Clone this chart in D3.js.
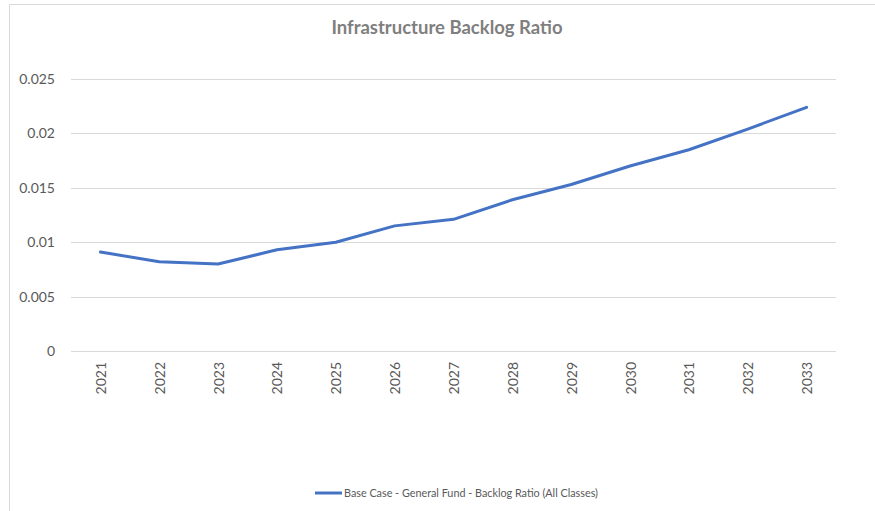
<!DOCTYPE html>
<html>
<head>
<meta charset="utf-8">
<script src="https://cdnjs.cloudflare.com/ajax/libs/d3/7.8.5/d3.min.js"></script>
<style>
  * { margin: 0; padding: 0; }
  body { background: #fff; width: 875px; height: 511px; overflow: hidden; font-family: Lato, 'Open Sans', sans-serif; }
</style>
</head>
<body>
<svg id="chart" width="875" height="511"></svg>
<script>
const years = ["2021","2022","2023","2024","2025","2026","2027","2028","2029","2030","2031","2032","2033"];
const backlogRatio = [0.0091, 0.0082, 0.0080, 0.0093, 0.0100, 0.0115, 0.0121, 0.0139, 0.0153, 0.0170, 0.0185, 0.0204, 0.0224];
const yTicks = [0, 0.005, 0.01, 0.015, 0.02, 0.025];
const seriesName = "Base Case - General Fund - Backlog Ratio (All Classes)";
const chartTitle = "Infrastructure Backlog Ratio";

const svg = d3.select("#chart");
const margin = { left: 71, right: 39, top: 79, bottom: 160 };
const W = 875, H = 511;

// chart frame (left and top edges visible)
svg.append("path")
  .attr("d", `M9.5,${H} V4.5 H${W}`)
  .attr("fill", "none").attr("stroke", "#d9d9d9").attr("stroke-width", 1);

const x = d3.scaleBand().domain(years).range([margin.left, W - margin.right]);
const y = d3.scaleLinear().domain([0, 0.025]).range([351, 79]);

// gridlines
svg.append("g").selectAll("line").data(yTicks).join("line")
  .attr("x1", margin.left).attr("x2", W - margin.right)
  .attr("y1", d => Math.round(y(d)) + 0.5).attr("y2", d => Math.round(y(d)) + 0.5)
  .attr("stroke", "#d9d9d9").attr("stroke-width", 1);

// y labels
svg.append("g").selectAll("text").data(yTicks).join("text")
  .attr("x", 55).attr("y", d => y(d) + 5)
  .attr("text-anchor", "end")
  .attr("font-size", "14px").attr("fill", "#595959")
  .text(d => d3.format("")(d));

// x labels (rotated)
svg.append("g").selectAll("text").data(years).join("text")
  .attr("transform", d => `translate(${x(d) + x.bandwidth() / 2 + 5.5},362) rotate(-90)`)
  .attr("text-anchor", "end")
  .attr("font-size", "14px").attr("fill", "#595959")
  .text(d => d);

// line
const line = d3.line()
  .x((d, i) => x(years[i]) + x.bandwidth() / 2)
  .y(d => y(d));
svg.append("path").datum(backlogRatio)
  .attr("d", line)
  .attr("fill", "none").attr("stroke", "#4472c4").attr("stroke-width", 3)
  .attr("stroke-linejoin", "round").attr("stroke-linecap", "round");

// title
svg.append("text")
  .attr("x", 447).attr("y", 34)
  .attr("text-anchor", "middle")
  .attr("font-size", "18.5px").attr("font-weight", "bold").attr("fill", "#7f7f7f")
  .text(chartTitle);

// legend
const lg = svg.append("g");
lg.append("line").attr("x1", 315).attr("x2", 342).attr("y1", 493).attr("y2", 493)
  .attr("stroke", "#4472c4").attr("stroke-width", 3);
lg.append("text").attr("x", 344).attr("y", 497)
  .attr("font-size", "10.8px").attr("fill", "#595959")
  .text(seriesName);
</script>
</body>
</html>
